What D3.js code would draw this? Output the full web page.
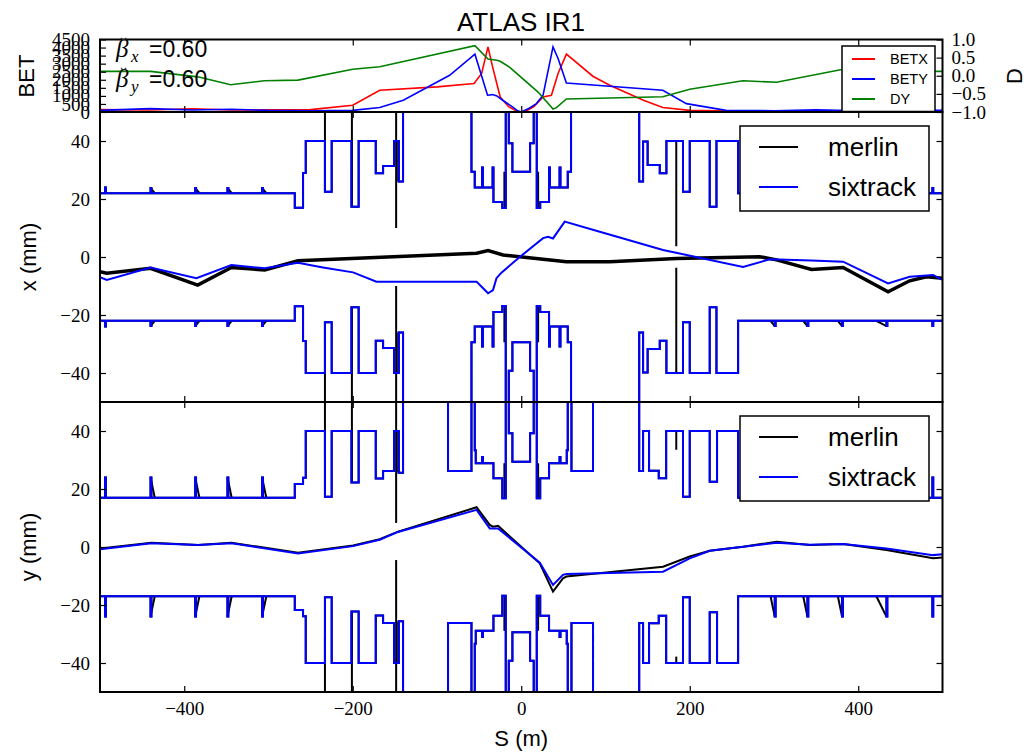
<!DOCTYPE html>
<html><head><meta charset="utf-8">
<script src="https://cdn.jsdelivr.net/npm/d3@7"></script>
<style>body{margin:0;background:#fff}</style>
</head><body>
<svg id="c" width="1031" height="753"></svg>
<script>
// ---------------- DATA ----------------
const sTicks = [-400, -200, 0, 200, 400];
const betTicks = [0, 500, 1000, 1500, 2000, 2500, 3000, 3500, 4000, 4500];
const dTicks = [-1.0, -0.5, 0.0, 0.5, 1.0];
const mmTicks = [-40, -20, 0, 20, 40];

// optics (top panel)
const betxS = [-500,-440,-390,-345,-300,-250,-200,-168,-100,-56,-47,-39.5,-34,-25,-15,-5,0,5,15,25.9,35.8,43.7,53.6,85,105,145,168,200,250,300,350,400,450,500];
const betx  = [150,120,200,120,130,150,420,1350,1560,1765,2390,4040,2800,930,330,40,5,40,330,930,1040,2390,3590,2220,1660,730,275,100,60,80,60,90,60,70];
const betyS = [-500,-440,-390,-345,-300,-250,-200,-168,-140,-85,-55,-40,-34,-29,-22,-10,-5,0,10,18,25.9,37.7,43.7,53.6,168,196,243,300,350,400,450,500];
const bety  = [100,210,120,170,100,80,100,275,730,2280,3590,1040,1080,1000,730,300,100,5,250,520,1040,4040,3320,1800,1350,520,100,80,130,80,120,100];
const dyS = [-500,-440,-384,-345,-305,-265,-200,-168,-55,-39.5,-29,-25,-13.6,-3.8,20,37.7,41.8,53.6,168,200,263,303,382,440,500];
const dy  = [0.12,0.12,-0.03,-0.25,-0.14,-0.12,0.18,0.25,0.83,0.46,0.43,0.40,0.23,0.03,-0.45,-0.92,-0.88,-0.64,-0.58,-0.37,-0.14,-0.18,0.18,0.12,0.12];
const betaStar = [["x","0.60"],["y","0.60"]];

// horizontal aperture (mm, upper edge; lower edge is its mirror)
const apXS = [-500,-494,-493,-440,-439,-387,-386,-348.7,-347.7,-307.6,-306.6,-268.8,-259,-255.8,-233,-225,-201.5,-193,-172.7,-164,-151,-145.4,-140.3,-59.1,-55.2,-46.5,-45.5,-34,-33,-22.5,-18.4,-14.8,-10.5,10.5,14.8,18.4,22.5,33,34,45.5,46.5,55.2,59.1,140,144.6,150,164.4,172.3,192,200,223.7,231.7,257.4,300.9,301.9,339.7,340.7,380.8,381.8,433.5,434.5,488,489,500];
const apX  = [22,24,22,23.8,22,23.8,22,23.8,22,23.8,22,17,29,40,22.5,40,17.3,40,28.9,31.4,40,26,60,29.4,24,30.9,24,30.9,19,16.9,60,39.2,29.4,39.2,60,16.9,19,30.9,24,30.9,24,29.4,60,26,39.8,31.7,28.9,40,22.5,40,17.3,40,22,23.8,22,23.8,22,23.8,22,23.8,22,23.8,22,22];
// vertical aperture (mm, upper edge)
const apYS = [-500,-494,-493,-440,-439,-387,-386,-348.7,-347.7,-307.6,-306.6,-268.8,-259,-255.8,-233,-225,-201.5,-193,-172.7,-164,-151,-145.4,-140.3,-86.9,-59.1,-55.2,-54,-46.5,-45.5,-33,-22.5,-18.4,-14.8,-10.5,10.5,14.8,18.4,22.5,33,45.5,46.5,54,55.2,59.6,85.2,140,144.6,151.7,163.2,172,192,200,223.7,232.4,257.4,300.9,301.9,339.7,340.7,380.8,381.8,433.5,434.5,488,489,500];
const apY  = [17,24,17,24,17,24,17,24,17,24,17,21.7,23.9,40,17.3,40,22.2,40,23.6,26.2,40,25.6,60,26.2,60,33.4,28.9,31,28.9,23.7,16.8,60,39.2,29.4,39.2,60,16.8,23.7,28.9,31,28.9,33.4,60,26.2,60,26.2,40,26.3,23.7,40,17.3,40,22.5,40,17,24,17,24,17,24,17,24,17,24,17,17];

// merlin-only aperture features: narrow spikes
const mSpikeS      = [-233,-201,-148.5,-146,184,-20,20];
const mSpikeXFrom  = [60,60,60,40,40,29.4,29.4];
const mSpikeXTo    = [22.5,17.3,10,26,3.7,16.9,16.9];
const mSpikeYFrom  = [60,60,60,40,40,28.9,28.9];
const mSpikeYTo    = [31,22.5,8.3,25.6,33.5,16.8,16.8];
const mSpikeYLowTo = [31.4,22.8,4.5,25.6,37.8,16.8,16.8];
// merlin diagonal ticks in the arcs
const mTickS   = [-440,-387,-348.7,-307.6,300.9,339.7,380.8,433.5];
const mTickRun = [5,5,5,5,-5,-5,-5,-12];

// closed orbits (mm)
const xOrbMS = [-500,-492,-440,-384,-344,-304.5,-265,-53,-39.4,-21.6,-1.8,25.9,53.6,105,184,283,303,344.5,382,435.4,461,481,500];
const xOrbM  = [-5.1,-5.6,-3.9,-9.7,-3.6,-4.5,-1.3,1.3,2.2,0.7,0.1,-0.8,-1.6,-1.6,-0.5,0.1,-1,-4.3,-3.6,-12,-8.2,-6.8,-7.3];
const xOrbSS = [-500,-492,-440,-385.6,-344,-304.5,-265,-235.3,-199.6,-171.9,-53,-45.3,-39.4,-33.5,-29.4,-23.5,-1.8,25.9,31.8,37.7,51.6,93.2,168.3,263.3,295,344.5,382,435.4,461,488.8,500];
const xOrbS  = [-7,-7.9,-3.6,-7.3,-2.8,-3.9,-2,-3.6,-5.3,-8.5,-8.5,-10.8,-12.5,-11.4,-7.3,-5.4,0,6.5,7,6.4,12.2,8.7,2.4,-3.4,-0.8,-1.2,-1.6,-9.1,-6.8,-6.2,-7.9];
const yOrbMS = [-500,-438.9,-383.6,-344,-265,-199.6,-168,-146.2,-53,-37.4,-33.5,-27.5,0,22,37.7,49.5,53.6,168.3,200,223.7,263.3,303,342.4,382,433.5,488.8,500];
const yOrbM  = [-0.5,1.5,0.7,1.5,-2,0.5,2.7,5.3,13.7,7.6,7,7.3,0.1,-5.6,-15.4,-10.8,-10.2,-6.8,-3.3,-1.3,0.1,1.8,0.7,1,-1,-3.9,-3.6];
const yOrbSS = [-500,-438.9,-383.6,-344,-265,-199.6,-168,-146.2,-53,-37.4,-27.5,0,22,37.7,49.5,53.6,168.3,200,223.7,263.3,303,342.4,382,433.5,488.8,500];
const yOrbS  = [-0.8,1.3,0.7,1.3,-2.2,0.3,2.5,5.2,12.8,6.4,6.4,-0.2,-5.4,-13.1,-9.6,-9.3,-8.5,-3.9,-1.3,0.1,1.5,0.8,1,-0.5,-2.8,-2.5];

// ---------------- LAYOUT ----------------
const svg = d3.select("#c");
const X0 = 100, X1 = 942.5;
const P = {top:[39.5,112], mid:[112,402], bot:[402,692]};
const xS = d3.scaleLinear().domain([-500,500]).range([X0,X1]);
const yBet = d3.scaleLinear().domain([0,4500]).range([P.top[1],P.top[0]]);
const yD = d3.scaleLinear().domain([-1,1]).range([P.top[1],P.top[0]]);
const yX = d3.scaleLinear().domain([-50,50]).range([P.mid[1],P.mid[0]]);
const yY = d3.scaleLinear().domain([-50,50]).range([P.bot[1],P.bot[0]]);
const SANS = "'Liberation Sans', Arial, sans-serif";
const SERIF = "'Liberation Serif', 'DejaVu Serif', serif";

const defs = svg.append("defs");
Object.entries(P).forEach(([k,[a,b]])=>{
  defs.append("clipPath").attr("id","clip-"+k).append("rect")
    .attr("x",X0).attr("y",a).attr("width",X1-X0).attr("height",b-a);
});
const zip = (S,V,sgn=1)=>S.map((s,i)=>[s,sgn*V[i]]);
function drawLine(g, S, V, ys, color, w, curve, sgn=1){
  g.append("path").datum(zip(S,V,sgn))
    .attr("fill","none").attr("stroke",color).attr("stroke-width",w)
    .attr("stroke-linejoin","miter")
    .attr("d", d3.line().x(d=>xS(d[0])).y(d=>ys(d[1])).curve(curve||d3.curveLinear));
}

// ---------- TOP PANEL ----------
const gTop = svg.append("g").attr("clip-path","url(#clip-top)");
drawLine(gTop, betxS, betx, yBet, "#ff0000", 1.6);
drawLine(gTop, betyS, bety, yBet, "#0000ff", 1.6);
drawLine(gTop, dyS, dy, yD, "#008000", 1.6);

// ---------- APERTURE PANELS ----------
function aperturePanel(key, ys, apS, ap, spikeFrom, spikeTo, spikeLowFrom, spikeLowTo, tickHi, tickBase, orbMS, orbM, orbSS, orbS, orbMW){
  const g = svg.append("g").attr("clip-path","url(#clip-"+key+")");
  // merlin (black)
  drawLine(g, apS, ap, ys, "#000", 2, d3.curveStepAfter, 1);
  drawLine(g, apS, ap, ys, "#000", 2, d3.curveStepAfter, -1);
  mSpikeS.forEach((s,i)=>{
    g.append("line").attr("x1",xS(s)).attr("x2",xS(s)).attr("y1",ys(spikeFrom[i])).attr("y2",ys(spikeTo[i]))
      .attr("stroke","#000").attr("stroke-width",2);
    g.append("line").attr("x1",xS(s)).attr("x2",xS(s)).attr("y1",ys(-spikeLowFrom[i])).attr("y2",ys(-spikeLowTo[i]))
      .attr("stroke","#000").attr("stroke-width",2);
  });
  mTickS.forEach((s,i)=>{
    [1,-1].forEach(sg=>{
      g.append("line").attr("x1",xS(s)).attr("y1",ys(sg*tickHi)).attr("x2",xS(s+mTickRun[i])).attr("y2",ys(sg*tickBase))
        .attr("stroke","#000").attr("stroke-width",2);
    });
  });
  drawLine(g, orbMS, orbM, ys, "#000", orbMW);
  // sixtrack (blue)
  drawLine(g, apS, ap, ys, "#0000ff", 2, d3.curveStepAfter, 1);
  drawLine(g, apS, ap, ys, "#0000ff", 2, d3.curveStepAfter, -1);
  drawLine(g, orbSS, orbS, ys, "#0000ff", 2);
}
aperturePanel("mid", yX, apXS, apX, mSpikeXFrom, mSpikeXTo, mSpikeXFrom, mSpikeXTo, 23.8, 22, xOrbMS, xOrbM, xOrbSS, xOrbS, 3.5);
aperturePanel("bot", yY, apYS, apY, mSpikeYFrom, mSpikeYTo, mSpikeYFrom, mSpikeYLowTo, 24, 17, yOrbMS, yOrbM, yOrbSS, yOrbS, 2);

// ---------- AXES / FRAMES ----------
const fmt = v => (v<0?"\u2212":"") + Math.abs(v);
function styleAxis(g, font, size){
  g.select(".domain").remove();
  g.selectAll(".tick line").attr("stroke","#000").attr("stroke-width",1.2);
  g.selectAll(".tick text").attr("font-family",font).attr("font-size",size).attr("fill","#000");
}
Object.entries(P).forEach(([k,[a,b]])=>{
  const showLab = (k==="bot");
  const gb = svg.append("g").attr("transform",`translate(0,${b})`)
    .call(d3.axisBottom(xS).tickValues(sTicks).tickSizeInner(-6).tickSizeOuter(0).tickPadding(10)
      .tickFormat(showLab?fmt:""));
  styleAxis(gb, SERIF, 19);
  const gt = svg.append("g").attr("transform",`translate(0,${a})`)
    .call(d3.axisTop(xS).tickValues(sTicks).tickSizeInner(-6).tickSizeOuter(0).tickFormat(""));
  styleAxis(gt, SERIF, 19);
});
// top panel y axes
let g1 = svg.append("g").attr("transform",`translate(${X0},0)`)
  .call(d3.axisLeft(yBet).tickValues(betTicks).tickSizeInner(-6).tickSizeOuter(0).tickPadding(10).tickFormat(d=>d));
styleAxis(g1, SERIF, 19);
let g2 = svg.append("g").attr("transform",`translate(${X1},0)`)
  .call(d3.axisRight(yD).tickValues(dTicks).tickSizeInner(-6).tickSizeOuter(0).tickPadding(9)
    .tickFormat(d=> (d<0?"\u2212":"") + d3.format(".1f")(Math.abs(d))));
styleAxis(g2, SERIF, 19);
// mid/bot y axes
[["mid",yX],["bot",yY]].forEach(([k,ys])=>{
  const gl = svg.append("g").attr("transform",`translate(${X0},0)`)
    .call(d3.axisLeft(ys).tickValues(mmTicks).tickSizeInner(-6).tickSizeOuter(0).tickPadding(10).tickFormat(fmt));
  styleAxis(gl, SERIF, 19);
  const gr = svg.append("g").attr("transform",`translate(${X1},0)`)
    .call(d3.axisRight(ys).tickValues(mmTicks).tickSizeInner(-6).tickSizeOuter(0).tickFormat(""));
  styleAxis(gr, SERIF, 19);
});
// frames
Object.values(P).forEach(([a,b])=>{
  svg.append("rect").attr("x",X0).attr("y",a).attr("width",X1-X0).attr("height",b-a)
    .attr("fill","none").attr("stroke","#000").attr("stroke-width",2);
});

// ---------- TEXT ----------
svg.append("text").attr("x",521).attr("y",31).attr("text-anchor","middle")
  .attr("font-family",SANS).attr("font-size",26).text("ATLAS IR1");
svg.append("text").attr("x",(X0+X1)/2).attr("y",746).attr("text-anchor","middle")
  .attr("font-family",SANS).attr("font-size",22).text("S (m)");
function ylab(txt,x,y,rot){
  svg.append("text").attr("transform",`translate(${x},${y}) rotate(${rot})`).attr("text-anchor","middle")
    .attr("font-family",SANS).attr("font-size",22).text(txt);
}
ylab("BET",34,76,-90);
ylab("x (mm)",36,257,-90);
ylab("y (mm)",36,547,-90);
ylab("D",1022,76,-90);

// beta* labels (breve-accented beta)
const betaBase = [57, 87];
betaStar.forEach(([sub,val],i)=>{
  const base = betaBase[i];
  const t = svg.append("g");
  t.append("text").attr("x",116).attr("y",base).attr("font-family",SERIF).attr("font-style","italic").attr("font-size",25).text("\u03B2");
  t.append("text").attr("x",119).attr("y",base-5).attr("font-family","'DejaVu Sans', sans-serif").attr("font-size",18).attr("fill","#222").text("\u02D8");
  t.append("text").attr("x",131).attr("y",base+5).attr("font-family",SERIF).attr("font-style","italic").attr("font-size",17).text(sub);
  t.append("text").attr("x",149).attr("y",base).attr("font-family",SANS).attr("font-size",23).text("=" + val);
});

// legends
function legend(x,y,w,h,items,lx0,lx1,tx,fs,dyText){
  svg.append("rect").attr("x",x).attr("y",y).attr("width",w).attr("height",h)
    .attr("fill","#fff").attr("stroke","#000").attr("stroke-width",1.5);
  items.forEach(it=>{
    svg.append("line").attr("x1",lx0).attr("x2",lx1).attr("y1",it.y).attr("y2",it.y)
      .attr("stroke",it.c).attr("stroke-width",2);
    svg.append("text").attr("x",tx).attr("y",it.y+dyText).attr("font-family",SANS).attr("font-size",fs).text(it.t);
  });
}
const topLegendNames = ["BETX","BETY","DY"];
const runLegendNames = ["merlin","sixtrack"];
legend(842,46,93,65.5,[{t:topLegendNames[0],c:"#ff0000",y:59},{t:topLegendNames[1],c:"#0000ff",y:79},{t:topLegendNames[2],c:"#008000",y:99}],852,875,890,14.5,5);
legend(740,126,189,85,[{t:runLegendNames[0],c:"#000",y:147},{t:runLegendNames[1],c:"#0000ff",y:187}],759,798,828,26,9);
legend(740,416,189,85,[{t:runLegendNames[0],c:"#000",y:437},{t:runLegendNames[1],c:"#0000ff",y:477}],759,798,828,26,9);
</script>
</body></html>
